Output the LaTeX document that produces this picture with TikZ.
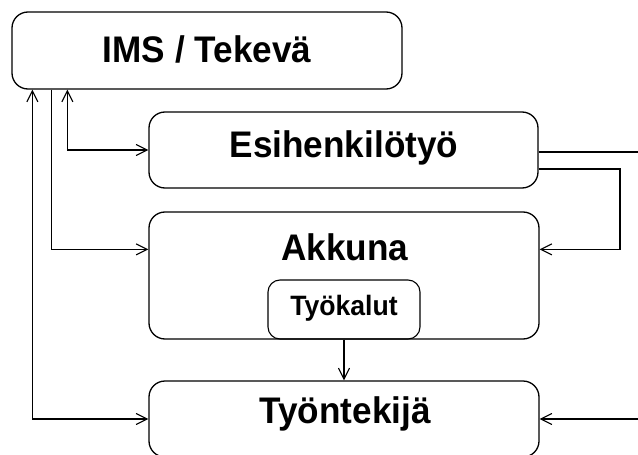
\documentclass[tikz,border=0pt]{standalone}
\usepackage{graphicx}
\usepackage{fontspec}
\setmainfont{Liberation Sans}
\usetikzlibrary{arrows.meta,calc}
\newcommand\condtxt[1]{\scalebox{0.95}[1]{#1}}
\begin{document}
\begin{tikzpicture}[x=1pt,y=-1pt,
  box/.style={draw,line width=1.3pt,rounded corners=16pt,inner sep=0pt},
  bigtxt/.style={font=\fontsize{37}{40}\selectfont\bfseries},
  smalltxt/.style={font=\fontsize{28}{30}\selectfont\bfseries},
  conn/.style={line width=1.1pt,arrows={-Straight Barb[length=11pt,width=11pt,line width=1.1pt]}},
  conn2/.style={line width=1.1pt,arrows={Straight Barb[length=11pt,width=11pt,line width=1.1pt]-Straight Barb[length=11pt,width=11pt,line width=1.1pt]}},
  plain/.style={line width=1.1pt}]
\useasboundingbox (0,0) rectangle (638,455);
\fill[white] (0,0) rectangle (638,455);
% boxes
\node[box,minimum width=390pt,minimum height=77pt] (ims) at (207,50.5) {};
\node[bigtxt] (imst) at (207,49) {\condtxt{IMS / Tekevä}};
\node[box,minimum width=389pt,minimum height=76pt] (esi) at (343.5,150) {};
\node[bigtxt] (esit) at (344,148) {\condtxt{Esihenkilötyö}};
\node[box,minimum width=390pt,minimum height=127pt] (akk) at (344,275.5) {};
\node[bigtxt] (akkt) at (345,247) {\condtxt{Akkuna}};
\node[box,rounded corners=12pt,line width=1.1pt,minimum width=152pt,minimum height=59pt] (tyk) at (344,309.5) {};
\node[smalltxt] (tykt) at (344,308) {\condtxt{Työkalut}};
\node[box,minimum width=390pt,minimum height=76pt] (tyo) at (344,419) {};
\node[bigtxt] (tyot) at (345,414) {\condtxt{Työntekijä}};
% free ends
\coordinate (r1) at (638,152);
\coordinate (r2) at (638,419);
\coordinate (bend) at (620,169);
% connectors
\draw[conn2] ([xshift=56pt]ims.south west) |- (esi.west);
\draw[conn] ([xshift=40pt]ims.south west) |- ([yshift=-38pt]akk.north west);
\draw[conn2] ([xshift=21pt]ims.south west) |- (tyo.west);
\draw[plain] ([yshift=-2pt]esi.east) -- (r1);
\draw[conn] ([yshift=-19pt]esi.east) -- (bend) |- ([yshift=-38pt]akk.north east);
\draw[conn] (r2) -- (tyo.east);
\draw[conn] (tyk.south) -- (tyo.north);
\end{tikzpicture}
\end{document}
